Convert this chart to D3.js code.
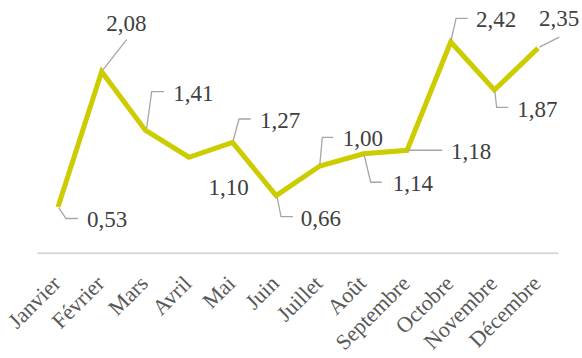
<!DOCTYPE html>
<html>
<head>
<meta charset="utf-8">
<script src="https://cdn.jsdelivr.net/npm/d3@7"></script>
<style>
  html, body { margin: 0; padding: 0; background: #fff; }
  svg { display: block; }
</style>
</head>
<body>
<svg id="chart" width="582" height="358"></svg>
<script>
// ---- data ----
const months = ["Janvier", "Février", "Mars", "Avril", "Mai", "Juin", "Juillet", "Août", "Septembre", "Octobre", "Novembre", "Décembre"];
const values = [0.53, 2.08, 1.41, 1.10, 1.27, 0.66, 1.00, 1.14, 1.18, 2.42, 1.87, 2.35];
const valueLabels = ["0,53", "2,08", "1,41", "1,10", "1,27", "0,66", "1,00", "1,14", "1,18", "2,42", "1,87", "2,35"];

// ---- layout of data labels (offset of text from point, leader polyline relative to point) ----
const labelLayout = [
  { dx: 29, dy: 20, leader: [[1, 1], [8, 11.5], [20, 11.5]] },
  { dx: 4.5, dy: -41, leader: [[1.5, -2], [25, -32]] },
  { dx: 28, dy: -29.5, leader: [[1.4, -2], [6.4, -38.5], [18.7, -38.5]] },
  { dx: 19.5, dy: 38, leader: null },
  { dx: 27.5, dy: -14.5, leader: [[0.8, -2.4], [6.5, -23.4], [18.2, -23.4]] },
  { dx: 24.5, dy: 30.5, leader: [[1, 1.5], [4.8, 21], [16.8, 21]] },
  { dx: 23, dy: -20, leader: [[0, -1.5], [2.5, -28.7], [13.5, -28.7]] },
  { dx: 29.3, dy: 37, leader: [[0.6, 1], [7.3, 28.5], [18.3, 28.5]] },
  { dx: 44, dy: 8.7, leader: [[1, 0], [35, 0]] },
  { dx: 25.3, dy: -15.3, leader: [[0.5, -2], [5.3, -23.7], [17, -23.7]] },
  { dx: 23, dy: 26.7, leader: [[0.5, 1.5], [2.3, 17.3], [14, 17.3]] },
  { dx: 1, dy: -22, leader: [[1.5, -1], [21.3, -11]] }
];

const svg = d3.select("#chart");

const x = d3.scalePoint().domain(months).range([58, 538]);
const y = d3.scaleLinear().domain([0, 2.5]).range([253.3, 35]);

// axis baseline
svg.append("line")
  .attr("x1", 37.5).attr("x2", 558.5)
  .attr("y1", y(0)).attr("y2", y(0))
  .attr("stroke", "#d9d9d9").attr("stroke-width", 2);

// category labels
svg.append("g").selectAll("text")
  .data(months)
  .join("text")
  .attr("transform", d => `translate(${x(d) + 4},${y(0) + 31.5}) rotate(-45)`)
  .attr("text-anchor", "end")
  .attr("font-family", "'Liberation Serif', 'Times New Roman', serif")
  .attr("font-size", 22)
  .attr("fill", "#595959")
  .text(d => d);

// line
const pts = months.map((m, i) => [x(m), y(values[i])]);
svg.append("path")
  .attr("d", d3.line()(pts))
  .attr("fill", "none")
  .attr("stroke", "#cccc00")
  .attr("stroke-width", 5)
  .attr("stroke-linejoin", "miter")
  .attr("stroke-linecap", "butt");

// leader lines
svg.append("g").selectAll("path")
  .data(labelLayout.map((l, i) => ({ l, p: pts[i] })).filter(d => d.l.leader))
  .join("path")
  .attr("d", d => d3.line()(d.l.leader.map(q => [d.p[0] + q[0], d.p[1] + q[1]])))
  .attr("fill", "none")
  .attr("stroke", "#a6a6a6")
  .attr("stroke-width", 1.3);

// data labels
svg.append("g").selectAll("text")
  .data(valueLabels)
  .join("text")
  .attr("x", (d, i) => pts[i][0] + labelLayout[i].dx)
  .attr("y", (d, i) => pts[i][1] + labelLayout[i].dy)
  .attr("font-family", "'Liberation Serif', 'Times New Roman', serif")
  .attr("font-size", 23)
  .attr("fill", "#404040")
  .text(d => d);
</script>
</body>
</html>
